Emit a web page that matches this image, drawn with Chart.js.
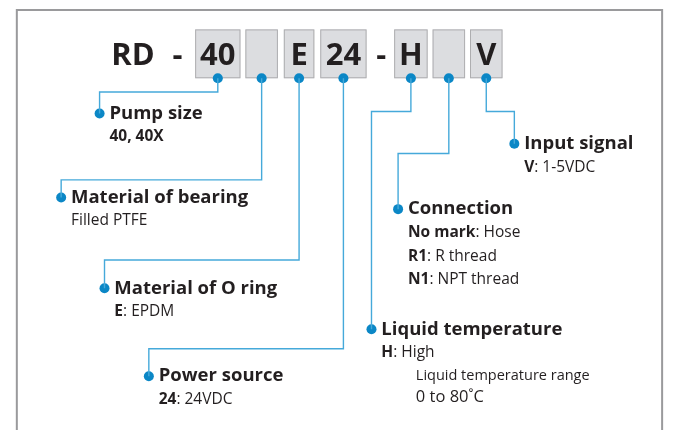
<!DOCTYPE html>
<html>
<head>
<meta charset="utf-8">
<script src="https://cdn.jsdelivr.net/npm/chart.js@4"></script>
<style>
  html, body { margin: 0; padding: 0; background: #fff; }
  #schema { display: block; }
</style>
</head>
<body>
<canvas id="schema" width="675" height="430"></canvas>
<script>
// ==== données du code produit ====
const prefixe = 'RD';
const codeParts = ['40', '', 'E', '24', 'H', '', 'V'];
const titres = ['Pump size', 'Material of bearing', 'Material of O ring', 'Power source',
  'Liquid temperature', 'Connection', 'Input signal'];
// chaque ligne = [partie en gras, partie normale]
const details = [
  [['40, 40X', '']],
  [['', 'Filled PTFE']],
  [['E', ': EPDM']],
  [['24', ': 24VDC']],
  [['H', ': High']],
  [['No mark', ': Hose'], ['R1', ': R thread'], ['N1', ': NPT thread']],
  [['V', ': 1-5VDC']]
];
const noteTemperature = ['Liquid temperature range', '0 to 80˚C'];

// ==== mise en page (pixels) ====
const boxLeft  = [193, 244, 283, 320, 395, 434, 472];
const boxRight = [239, 277, 314, 367, 429, 467, 505];
const boxTop = 25, boxBottom = 75;
const coudeY  = [89, 179, 261, 352, 109, 152, 109];
const repereX = [96, 57, 101, 146, 372, 399, 517];
const repereY = [111, 197, 290, 380, 332, 209, 142];

const bleuLigne = '#45a9da';
const bleuPoint = '#0b87c6';
const noir = '#231f20';
const police = '"Open Sans", "Noto Sans", sans-serif';

// lignes de rappel : une série par élément
const datasets = codeParts.map((p, i) => {
  const cx = (boxLeft[i] + boxRight[i]) / 2;
  return {
    type: 'line',
    data: [{x: cx, y: boxBottom}, {x: cx, y: coudeY[i]}, {x: repereX[i], y: coudeY[i]}, {x: repereX[i], y: repereY[i]}],
    borderColor: bleuLigne,
    borderWidth: 1.4,
    pointRadius: 0,
    fill: false,
    tension: 0
  };
});
// points aux deux bouts
const points = [];
codeParts.forEach((p, i) => {
  points.push({x: (boxLeft[i] + boxRight[i]) / 2, y: boxBottom});
  points.push({x: repereX[i], y: repereY[i]});
});
datasets.push({
  type: 'scatter',
  data: points,
  backgroundColor: bleuPoint,
  borderWidth: 0,
  pointRadius: 5,
  pointHoverRadius: 5
});

// cadre + cases du code
const Cases = {
  id: 'Cases',
  beforeDatasetsDraw(chart) {
    const {ctx, scales: {x, y}} = chart;
    ctx.save();
    // cadre gris
    ctx.strokeStyle = '#9a9a9c';
    ctx.lineWidth = 2;
    ctx.beginPath();
    ctx.moveTo(x.getPixelForValue(12), y.getPixelForValue(440));
    ctx.lineTo(x.getPixelForValue(12), y.getPixelForValue(5));
    ctx.lineTo(x.getPixelForValue(667), y.getPixelForValue(5));
    ctx.lineTo(x.getPixelForValue(667), y.getPixelForValue(440));
    ctx.stroke();

    codeParts.forEach((p, i) => {
      const l = x.getPixelForValue(boxLeft[i]), r = x.getPixelForValue(boxRight[i]);
      const t = y.getPixelForValue(boxTop), b = y.getPixelForValue(boxBottom);
      ctx.fillStyle = '#dcdde0';
      ctx.fillRect(l, t, r - l, b - t);
      ctx.strokeStyle = '#aeaeb0';
      ctx.lineWidth = 1;
      ctx.strokeRect(l + 0.5, t + 0.5, r - l - 1, b - t - 1);
      if (p) {
        ctx.font = 'bold 31px ' + police;
        ctx.fillStyle = noir;
        ctx.textAlign = 'center';
        ctx.textBaseline = 'middle';
        ctx.fillText(p, (l + r) / 2, (t + b) / 2 + 2);
      }
    });
    ctx.font = 'bold 31px ' + police;
    ctx.fillStyle = noir;
    ctx.textAlign = 'center';
    ctx.textBaseline = 'middle';
    ctx.fillText(prefixe, x.getPixelForValue(130), y.getPixelForValue(52));
    ctx.fillText('-', x.getPixelForValue(175), y.getPixelForValue(52));
    ctx.fillText('-', x.getPixelForValue(382), y.getPixelForValue(52));
    ctx.restore();
  }
};

// textes des repères
const Textes = {
  id: 'Textes',
  afterDatasetsDraw(chart) {
    const {ctx, scales: {x, y}} = chart;
    ctx.save();
    ctx.fillStyle = noir;
    ctx.textAlign = 'left';
    ctx.textBaseline = 'middle';
    titres.forEach((t, i) => {
      const tx = x.getPixelForValue(repereX[i] + 10);
      const ty = y.getPixelForValue(repereY[i]);
      ctx.font = 'bold 18.5px ' + police;
      ctx.fillText(t, tx, ty);
      details[i].forEach((ligne, k) => {
        const ly = ty + 23.5 * (k + 1);
        ctx.font = 'bold 15.5px ' + police;
        ctx.fillText(ligne[0], tx, ly);
        const w = ctx.measureText(ligne[0]).width;
        ctx.font = '15.5px ' + police;
        ctx.fillText(ligne[1], tx + w, ly);
      });
    });
    // plage de température
    const nx = x.getPixelForValue(417);
    ctx.font = '14.5px ' + police;
    ctx.fillText(noteTemperature[0], nx, y.getPixelForValue(380));
    ctx.font = '16.5px ' + police;
    ctx.fillText(noteTemperature[1], nx, y.getPixelForValue(402));
    ctx.restore();
  }
};

const monSchema = new Chart(document.getElementById('schema'), {
  data: {datasets},
  options: {
    responsive: false,
    animation: false,
    layout: {padding: 0},
    scales: {
      x: {type: 'linear', min: 0, max: 675, display: false},
      y: {type: 'linear', min: 0, max: 430, reverse: true, display: false}
    },
    plugins: {legend: {display: false}, tooltip: {enabled: false}}
  },
  plugins: [Cases, Textes]
});
</script>
</body>
</html>
